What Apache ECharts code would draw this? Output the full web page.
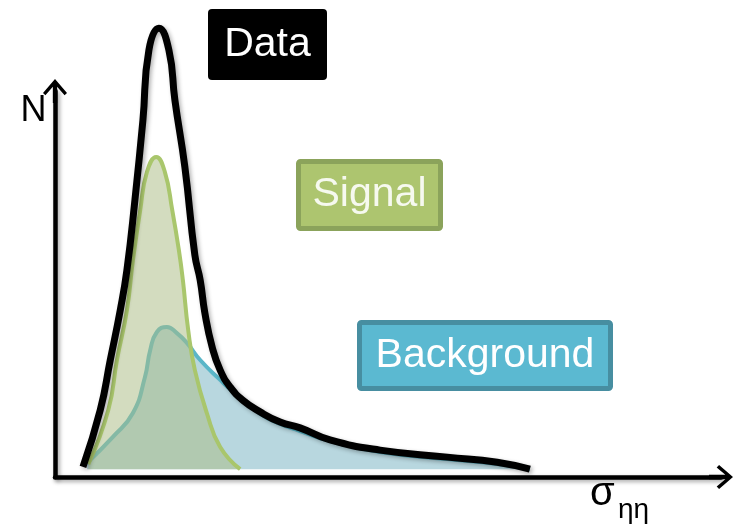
<!DOCTYPE html>
<html>
<head>
<meta charset="utf-8">
<script src="https://cdn.jsdelivr.net/npm/echarts@6/dist/echarts.min.js"></script>
<style>
  html, body { margin: 0; padding: 0; background: #ffffff; }
  #chart { width: 737px; height: 524px; }
</style>
</head>
<body>
<div id="chart"></div>
<script>
// Schematic sigma_eta-eta distributions (arbitrary units)
var dataX = [4.2, 6.8, 8.3, 9.8, 10.8, 12.0, 13.2, 14.1, 15.6, 17.1, 18.0, 19.5, 21.0, 21.8, 22.5, 23.6, 24.8, 26.3, 28.2, 30.8, 33.8, 36.8, 41.3, 48.8, 58.9, 66.4, 71.3];
var dataY = [0.6, 15.2, 28.0, 40.8, 51.1, 69.0, 89.5, 107.5, 113.1, 107.5, 94.7, 77.5, 54.9, 48.5, 40.1, 31.3, 25.4, 21.1, 17.7, 14.7, 12.1, 10.6, 7.5, 4.9, 3.1, 1.8, 0];

var signalX = [5.0, 8.0, 9.3, 10.8, 11.7, 12.8, 13.8, 15.2, 16.5, 17.6, 18.6, 19.2, 20.0, 21.0, 22.8, 24.8, 27.8];
var signalY = [1.3, 15.2, 28.0, 40.8, 53.6, 66.5, 76.2, 80.1, 76.2, 66.5, 56.2, 48.5, 35.7, 25.4, 14.4, 5.7, 0];

var bkgX = [4.8, 8.7, 11.7, 13.5, 14.3, 15.3, 16.8, 18.3, 19.8, 21.8, 24.8, 27.3, 30.8, 33.8, 36.8, 41.3, 48.8, 58.9, 66.4, 71.3];
var bkgY = [1.6, 8.3, 14.4, 23.6, 30.6, 35.2, 36.5, 34.9, 32.4, 28.0, 22.9, 19.0, 14.2, 11.6, 9.8, 7.2, 4.4, 2.6, 1.3, 0];

var labels = { data: 'Data', signal: 'Signal', background: 'Background', yName: 'N', xName: 'σ', xSub: 'ηη' };

function pairs(xs, ys) { return xs.map(function (x, i) { return [x, ys[i]]; }); }

var arrowPath = 'path://M50 0 L100 58 L90 68 L59 32 L59 100 L41 100 L41 32 L10 68 L0 58 Z';
var axisShadow = { shadowColor: 'rgba(0,0,0,0.35)', shadowBlur: 4, shadowOffsetX: 2, shadowOffsetY: 2 };

var chart = echarts.init(document.getElementById('chart'), null, { renderer: 'canvas' });
chart.setOption({
  animation: false,
  backgroundColor: '#ffffff',
  grid: { left: 55, right: 16, top: 91, bottom: 47 },
  xAxis: {
    type: 'value', min: 0, max: 100,
    axisLine: {
      onZero: false, symbol: ['none', arrowPath], symbolSize: [24, 24],
      lineStyle: Object.assign({ color: '#000', width: 4.5 }, axisShadow)
    },
    axisTick: { show: false }, axisLabel: { show: false }, splitLine: { show: false }
  },
  yAxis: {
    type: 'value', min: -2, max: 97,
    axisLine: {
      show: true, onZero: false, symbol: ['none', arrowPath], symbolSize: [24, 24],
      lineStyle: Object.assign({ color: '#000', width: 4.5 }, axisShadow)
    },
    axisTick: { show: false }, axisLabel: { show: false }, splitLine: { show: false }
  },
  series: [
    {
      name: labels.background, type: 'line', data: pairs(bkgX, bkgY),
      smooth: 0.5, symbol: 'none', clip: false, z: 2,
      lineStyle: { color: '#5ab6c8', width: 4 },
      areaStyle: { color: 'rgba(97,166,184,0.45)', opacity: 1 }
    },
    {
      name: labels.signal, type: 'line', data: pairs(signalX, signalY),
      smooth: 0.5, symbol: 'none', clip: false, z: 3,
      lineStyle: { color: '#a9c66c', width: 4 },
      areaStyle: { color: 'rgba(170,188,133,0.52)', opacity: 1 }
    },
    {
      name: labels.data, type: 'line', data: pairs(dataX, dataY),
      smooth: 0.5, symbol: 'none', clip: false, z: 4,
      lineStyle: { color: '#000', width: 7, shadowColor: 'rgba(0,0,0,0.3)', shadowBlur: 4, shadowOffsetX: 2, shadowOffsetY: 2 }
    }
  ],
  graphic: [
    { type: 'rect', shape: { x: 208, y: 9, width: 119, height: 71, r: 4 }, style: { fill: '#000' }, z: 10 },
    { type: 'text', x: 267.5, y: 44.5, z: 11, style: { text: labels.data, fill: '#fff', font: '41px "Liberation Sans", Arial, sans-serif', textAlign: 'center', textVerticalAlign: 'middle' } },

    { type: 'rect', shape: { x: 298.5, y: 161.5, width: 142, height: 67, r: 2 }, style: { fill: '#adc56f', stroke: '#8ba35b', lineWidth: 5 }, z: 10 },
    { type: 'text', x: 369.5, y: 195, z: 11, style: { text: labels.signal, fill: '#f6f9ef', font: '41px "Liberation Sans", Arial, sans-serif', textAlign: 'center', textVerticalAlign: 'middle' } },

    { type: 'rect', shape: { x: 359.5, y: 322.5, width: 251, height: 66, r: 2 }, style: { fill: '#5bb9d1', stroke: '#478ea1', lineWidth: 5 }, z: 10 },
    { type: 'text', x: 485, y: 355.5, z: 11, style: { text: labels.background, fill: '#fff', font: '41px "Liberation Sans", Arial, sans-serif', textAlign: 'center', textVerticalAlign: 'middle' } },

    { type: 'text', x: 33.5, y: 111, z: 11, style: { text: labels.yName, fill: '#000', font: '36px "Liberation Sans", Arial, sans-serif', textAlign: 'center', textVerticalAlign: 'middle' } },
    { type: 'text', x: 590, y: 494, z: 11, style: { text: labels.xName, fill: '#000', font: '40px "Liberation Sans", Arial, sans-serif', textAlign: 'left', textVerticalAlign: 'middle' } },
    { type: 'text', x: 618, y: 510, z: 11, style: { text: labels.xSub, fill: '#000', font: '28px "Liberation Sans", Arial, sans-serif', textAlign: 'left', textVerticalAlign: 'middle' } }
  ]
});
</script>
</body>
</html>
